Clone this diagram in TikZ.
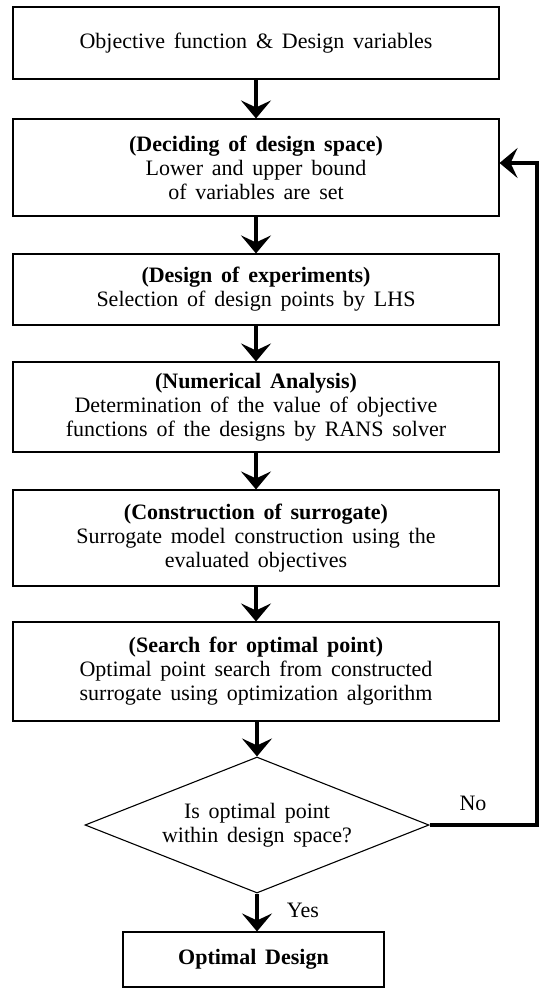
\documentclass[tikz,border=0pt]{standalone}
\usepackage{fontspec}
\setmainfont[WordSpace=1.6]{Liberation Serif}
\usetikzlibrary{arrows.meta,shapes.geometric}
\tikzset{
  box/.style={draw, line width=1.1pt, minimum width=486pt, align=center, inner sep=0pt,
    font=\fontsize{22pt}{24pt}\selectfont},
  decision/.style={draw, diamond, line width=1.1pt, aspect=2.53, minimum width=344pt,
    minimum height=136pt, inner sep=0pt, align=center, font=\fontsize{22pt}{24pt}\selectfont},
  arr/.style={line width=4.5pt, -{Stealth[length=18pt,width=30pt,inset=7pt]}},
  lbl/.style={font=\fontsize{22pt}{24pt}\selectfont, inner sep=0pt},
}
\begin{document}
\begin{tikzpicture}[x=1pt,y=-1pt]
\useasboundingbox (0,0) rectangle (542,988);
\node[box, minimum height=72pt] (b1) at (256,43) {Objective function \& Design variables};
\node[box, minimum height=97pt] (b2) at (256,167.5) {\textbf{(Deciding of design space)}\\Lower and upper bound\\of variables are set};
\node[box, minimum height=71pt] (b3) at (256,289.5) {\textbf{(Design of experiments)}\\Selection of design points by LHS};
\node[box, minimum height=90pt] (b4) at (256,407) {\textbf{(Numerical Analysis)}\\Determination of the value of objective\\functions of the designs by RANS solver};
\node[box, minimum height=96pt] (b5) at (256,538) {\textbf{(Construction of surrogate)}\\Surrogate model construction using the\\evaluated objectives};
\node[box, minimum height=99pt] (b6) at (256,671.5) {\textbf{(Search for optimal point)}\\Optimal point search from constructed\\surrogate using optimization algorithm};
\node[decision] (dia) at (257,825) {Is optimal point\\within design space?};
\node[box, minimum width=261pt, minimum height=55pt] (b7) at (253.5,959.5) {\textbf{Optimal Design}};
\coordinate (fb) at (537,163);
\draw[arr] (b1) -- (b2);
\draw[arr] (b2) -- (b3);
\draw[arr] (b3) -- (b4);
\draw[arr] (b4) -- (b5);
\draw[arr] (b5) -- (b6);
\draw[arr] (b6.south -| dia.north) -- (dia.north);
\draw[arr] (dia.south) -- (dia.south |- b7.north);
\draw[arr, line join=miter] (dia.east) -| (fb) -- (b2.east |- fb);
\node[lbl] (no) at (473,803) {No};
\node[lbl] (yes) at (303,910) {Yes};
\end{tikzpicture}
\end{document}
